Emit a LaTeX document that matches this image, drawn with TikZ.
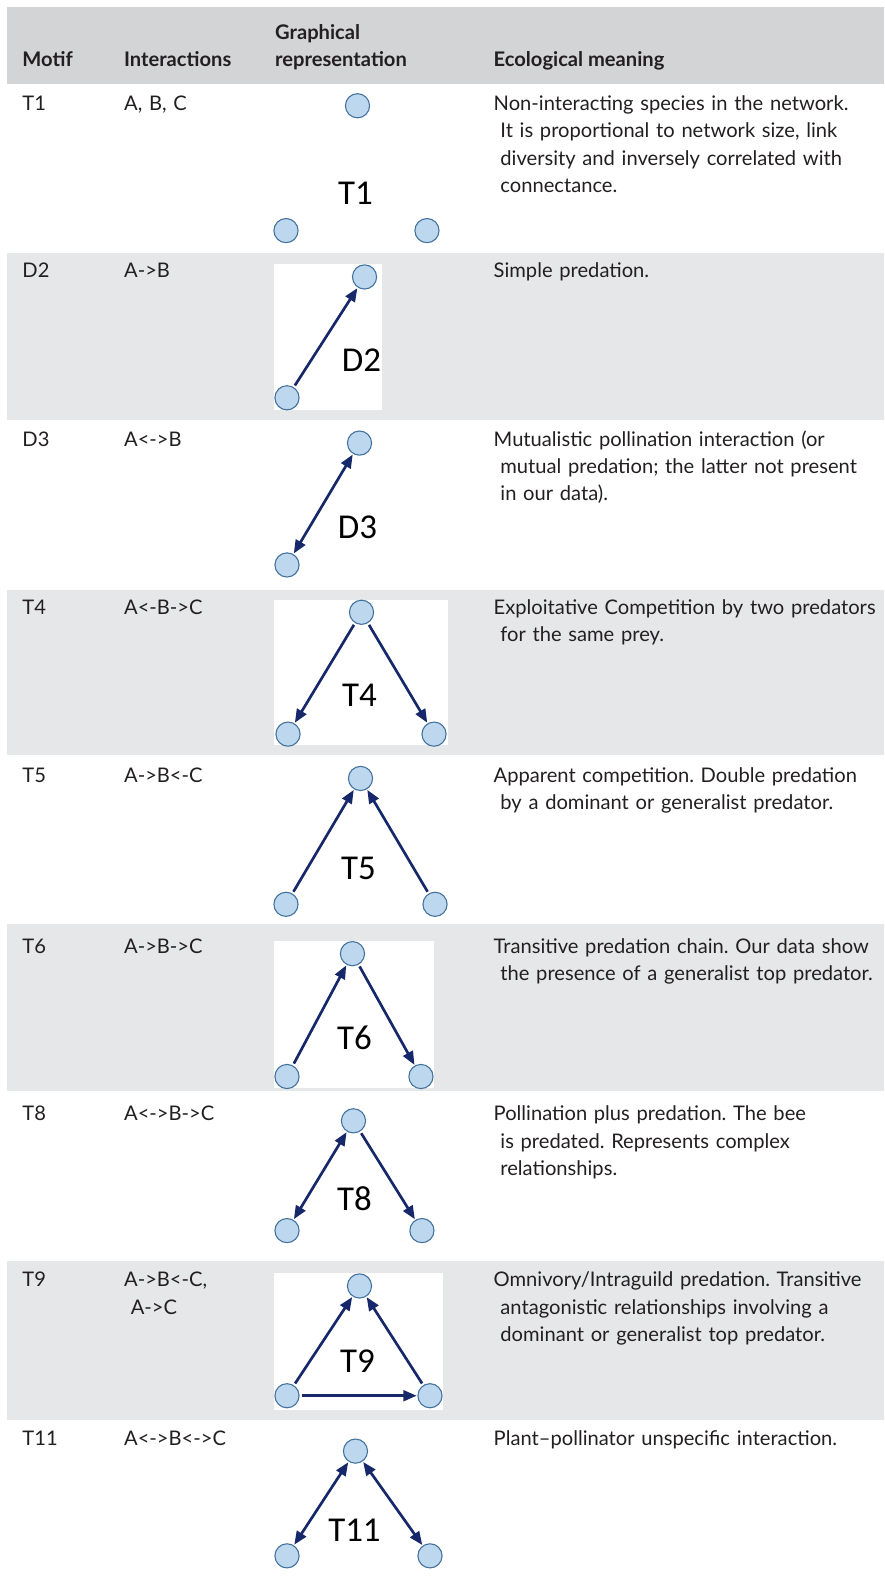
\documentclass[tikz,border=0pt]{standalone}
\usepackage{fontspec}
\setmainfont{Lato}
\newfontfamily\lblfont{Carlito}
\usetikzlibrary{arrows.meta}
\definecolor{hdrgray}{HTML}{D3D4D6}
\definecolor{rowgray}{HTML}{E6E7E8}
\definecolor{txt}{HTML}{231F20}
\definecolor{nodefill}{HTML}{BDD7EE}
\definecolor{nodeline}{HTML}{41719C}
\definecolor{arr}{HTML}{16286A}
\newcommand{\ind}{\hspace*{5pt}}
\frenchspacing
\begin{document}
\begin{tikzpicture}[x=0.75pt,y=-0.75pt,
  sp/.style={circle, draw=nodeline, line width=0.8pt, fill=nodefill, minimum size=18pt, inner sep=0pt},
  lab/.style={font=\lblfont\fontsize{26}{26}\selectfont, inner sep=0pt, text=black},
  cell/.style={anchor=base west, inner sep=0pt, text=txt, font=\fontsize{15}{20.25}\selectfont, align=left, text width=320pt},
  icell/.style={cell, text width=110pt},
  hdr/.style={anchor=base west, inner sep=0pt, text=txt, font=\bfseries\fontsize{15}{20.25}\selectfont},
  link/.style={draw=arr, line width=2pt, -{Triangle[length=10pt,width=8pt]}, shorten >=0.5pt, shorten <=1.5pt},
  blink/.style={link, {Triangle[length=10pt,width=8pt]}-{Triangle[length=10pt,width=8pt]}, shorten <=0.5pt},
  whitebox/.style={fill=white}
]
\useasboundingbox (0,0) rectangle (878,1568);
\fill[white] (0,0) rectangle (878,1568);
% bands
\fill[hdrgray] (7,7) rectangle (878,83);
\fill[rowgray] (7,251) rectangle (878,417);
\fill[rowgray] (7,586) rectangle (878,750);
\fill[rowgray] (7,918) rectangle (878,1083);
\fill[rowgray] (7,1252) rectangle (878,1410);
% white picture boxes
\fill[whitebox] (272,262) rectangle (379,407);
\fill[whitebox] (272,596) rectangle (445,740);
\fill[whitebox] (272,934) rectangle (431,1080);
\fill[whitebox] (272,1264) rectangle (440,1400);

% header
\node[hdr] (h1) at (22,66) {Motif};
\node[hdr] (h2) at (123,66) {Interactions};
\node[hdr] (h3a) at (273,39) {Graphical};
\node[hdr] (h3b) at (273,66) {representation};
\node[hdr] (h4) at (490,66) {Ecological meaning};

% row T1
\node[cell] (m1) at (22,110) {T1};
\node[icell] (i1) at (123,110) {A, B, C};
\node[cell] (e1) at (490,110) {Non-interacting species in the network.\\\ind It is proportional to network size, link\\\ind diversity and inversely correlated with\\\ind connectance.};
\node[sp] (t1a) at (355,105) {};
\node[sp] (t1b) at (284,229) {};
\node[sp] (t1c) at (424,229) {};
\node[lab] (t1l) at (353,192) {T1};

% row D2
\node[cell] (m2) at (22,276) {D2};
\node[icell] (i2) at (123,276) {A->B};
\node[cell] (e2) at (490,276) {Simple predation.};
\node[sp] (d2a) at (362,275) {};
\node[sp] (d2b) at (285,395) {};
\node[lab] (d2l) at (359,358) {D2};
\draw[link] (d2b) -- (d2a);

% row D3
\node[cell] (m3) at (22,443) {D3};
\node[icell] (i3) at (123,443) {A<->B};
\node[cell] (e3) at (490,443) {Mutualistic pollination interaction (or\\\ind mutual predation; the latter not present\\\ind in our data).};
\node[sp] (d3a) at (357,440) {};
\node[sp] (d3b) at (285,561) {};
\node[lab] (d3l) at (355,524) {D3};
\draw[blink] (d3b) -- (d3a);

% row T4
\node[cell] (m4) at (22,610) {T4};
\node[icell] (i4) at (123,610) {A<-B->C};
\node[cell] (e4) at (490,610) {Exploitative Competition by two predators\\\ind for the same prey.};
\node[sp] (t4a) at (359,608) {};
\node[sp] (t4b) at (286,729) {};
\node[sp] (t4c) at (431,729) {};
\node[lab] (t4l) at (357,690) {T4};
\draw[link] (t4a) -- (t4b);
\draw[link] (t4a) -- (t4c);

% row T5
\node[cell] (m5) at (22,777) {T5};
\node[icell] (i5) at (123,777) {A->B<-C};
\node[cell] (e5) at (490,777) {Apparent competition. Double predation\\\ind by a dominant or generalist predator.};
\node[sp] (t5a) at (358,773) {};
\node[sp] (t5b) at (284,898) {};
\node[sp] (t5c) at (432,898) {};
\node[lab] (t5l) at (356,862) {T5};
\draw[link] (t5b) -- (t5a);
\draw[link] (t5c) -- (t5a);

% row T6
\node[cell] (m6) at (22,947) {T6};
\node[icell] (i6) at (123,947) {A->B->C};
\node[cell] (e6) at (490,947) {Transitive predation chain. Our data show\\\ind the presence of a generalist top predator.};
\node[sp] (t6a) at (350,947) {};
\node[sp] (t6b) at (285,1069) {};
\node[sp] (t6c) at (418,1069) {};
\node[lab] (t6l) at (352,1031) {T6};
\draw[link] (t6b) -- (t6a);
\draw[link] (t6a) -- (t6c);

% row T8
\node[cell] (m8) at (22,1113) {T8};
\node[icell] (i8) at (123,1113) {A<->B->C};
\node[cell] (e8) at (490,1113) {Pollination plus predation. The bee\\\ind is predated. Represents complex\\\ind relationships.};
\node[sp] (t8a) at (351,1113) {};
\node[sp] (t8b) at (285,1222) {};
\node[sp] (t8c) at (419,1222) {};
\node[lab] (t8l) at (352,1190) {T8};
\draw[blink] (t8b) -- (t8a);
\draw[link] (t8a) -- (t8c);

% row T9
\node[cell] (m9) at (22,1278) {T9};
\node[icell] (i9) at (123,1278) {A->B<-C,\\\ind A->C};
\node[cell] (e9) at (490,1278) {Omnivory/Intraguild predation. Transitive\\\ind antagonistic relationships involving a\\\ind dominant or generalist top predator.};
\node[sp] (t9a) at (357,1277) {};
\node[sp] (t9b) at (285,1386) {};
\node[sp] (t9c) at (427,1386) {};
\node[lab] (t9l) at (355,1352) {T9};
\draw[link] (t9b) -- (t9a);
\draw[link] (t9c) -- (t9a);
\draw[link] (t9b) -- (t9c);

% row T11
\node[cell] (m11) at (22,1435) {T11};
\node[icell] (i11) at (123,1435) {A<->B<->C};
\node[cell] (e11) at (490,1435) {Plant–pollinator unspecific interaction.};
\node[sp] (t11a) at (353,1441) {};
\node[sp] (t11b) at (285,1545) {};
\node[sp] (t11c) at (427,1545) {};
\node[lab] (t11l) at (352,1520) {T11};
\draw[blink] (t11b) -- (t11a);
\draw[blink] (t11c) -- (t11a);
\end{tikzpicture}
\end{document}
